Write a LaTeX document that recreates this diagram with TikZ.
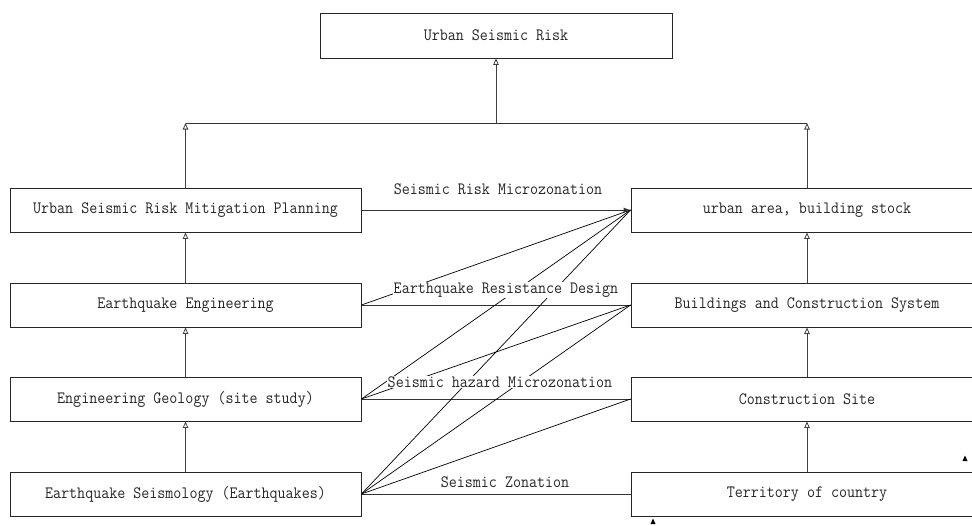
\documentclass[tikz,border=0pt]{standalone}
\usepackage{fontspec}
\newfontfamily\diagfont{Latin Modern Mono}[FakeStretch=0.9]
\usetikzlibrary{arrows.meta}
\begin{document}
\begin{tikzpicture}[x=1pt,y=-1pt,
  box/.style={draw=black!85,line width=0.9pt,minimum width=351pt,minimum height=44pt,inner sep=0pt,
    font=\diagfont\fontsize{17.3}{20}\selectfont,text=black!85},
  lbl/.style={fill=white,inner sep=1pt,font=\diagfont\fontsize{17.3}{20}\selectfont,text=black!85},
  tri/.style={-{Triangle[open,length=6.5pt,width=5.5pt]},line width=0.8pt,draw=black!75},
  link/.style={line width=0.7pt,draw=black},
  hlink/.style={line width=0.9pt,draw=black!80}]
\useasboundingbox (0,0) rectangle (972,525);
\clip (0,0) rectangle (972,525);
\fill[white] (0,0) rectangle (972,525);
% nodes
\node[box,minimum width=352pt,minimum height=45pt] (top) at (496,35.5) {Urban Seismic Risk};
\node[box] (mit) at (185.5,210) {Urban Seismic Risk Mitigation Planning};
\node[box] (eng) at (185.5,305) {Earthquake Engineering};
\node[box] (geo) at (185.5,399) {Engineering Geology (site study)};
\node[box] (sei) at (185.5,494) {Earthquake Seismology (Earthquakes)};
\node[box,minimum width=352pt] (urb) at (807,210) {urban area, building stock};
\node[box,minimum width=352pt] (bld) at (807,305) {Buildings and Construction System};
\node[box,minimum width=352pt] (site) at (807,399) {Construction Site};
\node[box,minimum width=352pt] (ter) at (807,494) {Territory of country};
% tree
\coordinate (bl) at (185.5,123);
\coordinate (br) at (807,123);
\coordinate (bm) at (496,123);
\draw[hlink] (bl) -- (br);
\draw[tri] (mit.north) -- (bl);
\draw[tri] (urb.north) -- (br);
\draw[tri] (bm) -- (top.south);
\draw[tri] (eng.north) -- (mit.south);
\draw[tri] (geo.north) -- (eng.south);
\draw[tri] (sei.north) -- (geo.south);
\draw[tri] (bld.north) -- (urb.south);
\draw[tri] (site.north) -- (bld.south);
\draw[tri] (ter.north) -- (site.south);
% links
\draw[hlink] (eng.east) -- (bld.west);
\draw[hlink] (geo.east) -- (site.west);
\draw[hlink] (sei.east) -- (ter.west);
\draw[link] (eng.east) -- (urb.west);
\draw[link] (geo.east) -- (urb.west);
\draw[link] (geo.east) -- (bld.west);
\draw[link] (sei.east) -- (urb.west);
\draw[link] (sei.east) -- (bld.west);
\draw[link] (sei.east) -- (site.west);
\draw[hlink,-{Latex[length=7pt,width=5pt]}] (mit.east) -- (urb.west);
% labels
\node[lbl] (l1) at (498,189) {Seismic Risk Microzonation};
\node[lbl] (l2) at (506,290) {Earthquake Resistance Design};
\node[lbl] (l3) at (500,382) {Seismic hazard Microzonation};
\node[lbl] (l4) at (505,482) {Seismic Zonation};
% small marks
\fill[black] (962.5,461) -- (967.5,461) -- (965,455.5) -- cycle;
\fill[black] (650.5,524) -- (655.5,524) -- (653,518.5) -- cycle;
\end{tikzpicture}
\end{document}
